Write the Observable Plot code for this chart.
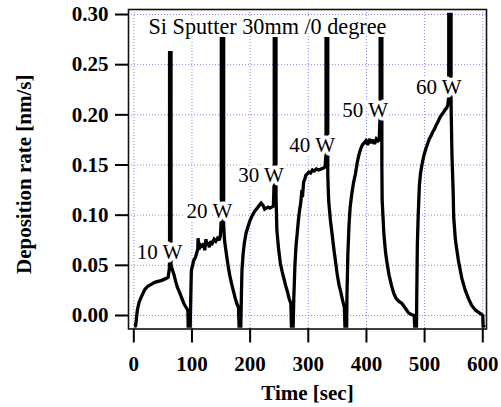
<!DOCTYPE html>
<html>
<head>
<meta charset="utf-8">
<script src="https://cdn.jsdelivr.net/npm/d3@7"></script>
<script src="https://cdn.jsdelivr.net/npm/@observablehq/plot@0.6"></script>
<style>
  html, body { margin: 0; padding: 0; background: #fff; }
  #chart { width: 501px; height: 407px; }
</style>
</head>
<body>
<div id="chart"></div>
<script>
// ---- data ----
const timeSec = [
  // 10 W
  3,4,6,9,14,19,24,30,36,42,48,52,56,59,61,61.5,61.5,64,64,66,69,72,75,78,82,86,90,93,93.5,97,
  // 20 W
  98,99,101,103,106,108,110,110.5,112,115,118,120,122,124,126,128,130,132,135,138,141,144,147,149,150,150.5,150.5,154.5,154.5,156,159,162,165,168,171,174,177,180,181,184,
  // 30 W
  185,186,188,190,193,196,200,204,208,212,216,219,222,225,228,231,234,237,240,241,241.5,241.5,244.5,244.5,246,249,252,255,258,261,264,267,270,271,274,
  // 40 W
  275,277,279,281,283,285,287,289,290,292,294,296,298,301,304,307,310,314,318,322,326,329,330,330.5,330.5,333.5,333.5,335,338,341,344,347,350,353,356,359,362,363,366,
  // 50 W
  366.5,368,370,372,375,378,381,384,387,390,393,396,399,402,405,408,411,414,417,420,422,423,423.5,423.5,426.5,426.5,427,430,433,436,439,443,447,451,456,461,466,472,477,482,483,486,
  // 60 W
  486.5,487.5,489,491,493,496,499,502,505,508,511,514,517,520,523,526,529,532,535,538,540,541,541.5,541.5,545.5,545.5,547,549,550,553,558,564,570,576,581,588,596,600,600.5,602
];
const rateNmS = [
  // 10 W
  -0.0105,-0.006,0.005,0.013,0.02,0.026,0.029,0.031,0.033,0.034,0.035,0.036,0.037,0.038,0.046,0.052,0.262,0.262,0.05,0.046,0.041,0.034,0.028,0.024,0.018,0.012,0.008,0.005,-0.0105,-0.0105,
  // 20 W
  0.02,0.045,0.05,0.055,0.058,0.062,0.066,0.077,0.066,0.07,0.068,0.072,0.065,0.076,0.07,0.073,0.068,0.074,0.072,0.076,0.074,0.077,0.075,0.08,0.092,0.092,0.276,0.276,0.09,0.075,0.062,0.05,0.04,0.032,0.025,0.018,0.012,0.008,-0.0105,-0.0105,
  // 30 W
  0.02,0.045,0.062,0.072,0.082,0.088,0.095,0.1,0.104,0.107,0.11,0.112,0.11,0.106,0.107,0.108,0.107,0.108,0.109,0.128,0.128,0.276,0.276,0.12,0.085,0.066,0.052,0.044,0.037,0.03,0.024,0.017,0.012,-0.0105,-0.0105,
  // 40 W
  0.015,0.05,0.07,0.082,0.095,0.105,0.112,0.125,0.118,0.133,0.136,0.14,0.141,0.143,0.142,0.145,0.144,0.146,0.145,0.146,0.147,0.148,0.158,0.158,0.276,0.276,0.14,0.115,0.095,0.081,0.066,0.053,0.04,0.03,0.023,0.015,0.008,-0.0105,-0.0105,
  // 50 W
  0.02,0.06,0.09,0.108,0.122,0.133,0.141,0.152,0.16,0.166,0.17,0.172,0.174,0.17,0.176,0.172,0.175,0.171,0.176,0.174,0.175,0.193,0.193,0.276,0.276,0.15,0.115,0.081,0.062,0.05,0.04,0.03,0.022,0.017,0.014,0.012,0.008,0.003,0.001,0.0,-0.0105,-0.0105,
  // 60 W
  0.02,0.07,0.1,0.13,0.142,0.152,0.16,0.166,0.171,0.176,0.179,0.183,0.186,0.19,0.193,0.197,0.2,0.202,0.205,0.207,0.21,0.216,0.216,0.30,0.30,0.21,0.16,0.125,0.098,0.075,0.055,0.037,0.025,0.016,0.01,0.005,0.002,0.0,-0.0105,-0.0105
];

const powerLabels = ["10 W", "20 W", "30 W", "40 W", "50 W", "60 W"];
const labelTime   = [44.2, 130.1, 218.7, 306.6, 397.8, 524.3];
const labelRate   = [0.0635, 0.1034, 0.1396, 0.1695, 0.2043, 0.2277];

const xTicks = [0, 100, 200, 300, 400, 500, 600];
const yTicks = [0.00, 0.05, 0.10, 0.15, 0.20, 0.25, 0.30];

const titleText = "Si Sputter 30mm /0 degree";
const xTitle = "Time [sec]";
const yTitle = "Deposition rate [nm/s]";

// ---- build ----
const trace = timeSec.map((t, i) => ({t, r: rateNmS[i]}));
const labels = powerLabels.map((s, i) => ({s, t: labelTime[i], r: labelRate[i]}));

const FONT = "Liberation Serif, Times New Roman, serif";
const GRID = "#8585f2";

const chart = Plot.plot({
  width: 501,
  height: 407,
  marginLeft: 128,
  marginRight: 15,
  marginTop: 9,
  marginBottom: 78.5,
  style: {fontFamily: FONT, fontSize: "21px", background: "#fff", color: "#000"},
  x: {domain: [-9.1, 606.4]},
  y: {domain: [-0.01346, 0.305]},
  marks: [
    Plot.gridX(xTicks, {stroke: GRID, strokeOpacity: 1, strokeWidth: 1, strokeDasharray: "1,2"}),
    Plot.gridY(yTicks, {stroke: GRID, strokeOpacity: 1, strokeWidth: 1, strokeDasharray: "1,2"}),
    Plot.line(trace, {x: "t", y: "r", stroke: "#000", strokeWidth: 3.3, strokeLinejoin: "miter", strokeMiterlimit: 2}),
    Plot.text(labels, {x: "t", y: "r", text: "s", fontSize: 21, fill: "#000", stroke: "#fff", strokeWidth: 7, paintOrder: "stroke", textAnchor: "middle", lineAnchor: "middle", fontFamily: FONT}),
    Plot.text([titleText], {x: 25.3, y: 0.2881, text: d => d, fontSize: 22.2, fill: "#000", stroke: "#fff", strokeWidth: 4, paintOrder: "stroke", textAnchor: "start", lineAnchor: "middle", fontFamily: FONT}),
    Plot.frame({stroke: "#111", strokeWidth: 1.6}),
    Plot.axisX(xTicks, {tickSize: 14, tickPadding: 13, fontSize: 21, fontWeight: "bold", fontFamily: FONT, strokeWidth: 2, label: null, tickFormat: d => String(d)}),
    Plot.axisY(yTicks, {tickSize: 13, tickPadding: 7, fontSize: 21, fontWeight: "bold", fontFamily: FONT, strokeWidth: 2, label: null, tickFormat: d => d.toFixed(2)}),
    Plot.text([xTitle], {frameAnchor: "bottom", dy: 64.5, text: d => d, fontSize: 21, fontWeight: "bold", fontFamily: FONT, lineAnchor: "middle", textAnchor: "middle"}),
    Plot.text([yTitle], {frameAnchor: "left", dx: -104, dy: 5, rotate: -90, text: d => d, fontSize: 21, fontWeight: "bold", fontFamily: FONT, lineAnchor: "middle", textAnchor: "middle"})
  ]
});
document.getElementById("chart").appendChild(chart);
</script>
</body>
</html>
